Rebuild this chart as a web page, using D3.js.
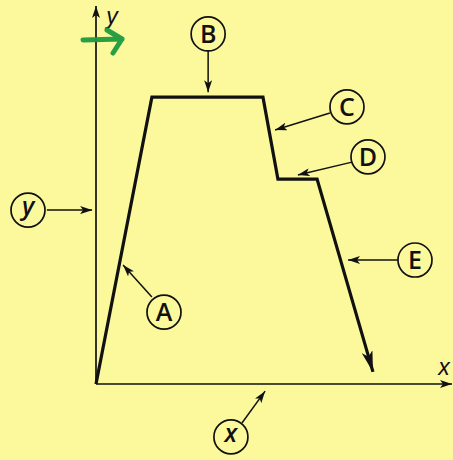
<!DOCTYPE html>
<html>
<head>
<meta charset="utf-8">
<script src="https://cdn.jsdelivr.net/npm/d3@7"></script>
<style>
  html, body { margin: 0; padding: 0; background: #fcf89c; }
  svg { display: block; }
</style>
</head>
<body>
<svg id="chart" width="453" height="460"></svg>
<script>
// ---- data (abstract units, 0..100 on each axis) ----
const pathX = [0, 15.7, 46.9, 51.1, 62.1, 77.8];
const pathY = [0, 75.9, 75.9, 54.2, 54.2, 3.2];

const labelNames  = ["y", "A", "B", "C", "D", "E", "x"];
const labelItalic = [true, false, false, false, false, false, true];
const labelCX     = [-19.1, 19.1, 31.5, 70.5, 76.4, 89.6, 37.9];
const labelCY     = [46.0, 19.0, 92.6, 73.3, 60.1, 32.8, -14.0];
const arrowFromX  = [-13.8, 15.7, 31.5, 65.7, 71.9, 84.8, 41.0];
const arrowFromY  = [46.0, 23.0, 88.1, 71.7, 58.7, 32.8, -10.3];
const arrowToX    = [-1.1, 7.6, 31.5, 50.3, 56.7, 70.8, 47.5];
const arrowToY    = [46.0, 31.5, 77.2, 67.2, 55.3, 32.8, -1.9];

const axisNames = ["x", "y"];

// ---- scales ----
const svg = d3.select("#chart");
const x = d3.scaleLinear().domain([0, 100]).range([96, 452]);
const y = d3.scaleLinear().domain([0, 100]).range([384, 6]);

// ---- markers ----
const defs = svg.append("defs");
function marker(id, w, h) {
  defs.append("marker")
    .attr("id", id)
    .attr("viewBox", `0 0 ${w} ${h}`)
    .attr("refX", w).attr("refY", h / 2)
    .attr("markerUnits", "userSpaceOnUse")
    .attr("markerWidth", w).attr("markerHeight", h)
    .attr("orient", "auto")
    .append("path")
    .attr("d", `M0,0 L${w},${h/2} L0,${h} L${w*0.25},${h/2} Z`)
    .attr("fill", "#111");
}
marker("axisHead", 12, 8);
marker("smallHead", 12, 8);
marker("bigHead", 21, 11);

// ---- axes ----
const [xmin, xmax] = x.range();
svg.append("line")
  .attr("x1", x(0)).attr("y1", y(0))
  .attr("x2", xmax).attr("y2", y(0))
  .attr("stroke", "#111").attr("stroke-width", 1.7)
  .attr("marker-end", "url(#axisHead)");
svg.append("line")
  .attr("x1", x(0)).attr("y1", y(0))
  .attr("x2", x(0)).attr("y2", y.range()[1])
  .attr("stroke", "#111").attr("stroke-width", 1.7)
  .attr("marker-end", "url(#axisHead)");

// axis labels
svg.append("text")
  .attr("x", xmax - 8).attr("y", y(0) - 9)
  .attr("text-anchor", "middle")
  .attr("font-family", "Liberation Sans, Arial, sans-serif")
  .attr("font-style", "italic").attr("font-size", 23)
  .attr("fill", "#111")
  .text(axisNames[0]);
svg.append("text")
  .attr("x", x(0) + 16).attr("y", y.range()[1] + 18)
  .attr("text-anchor", "middle")
  .attr("font-family", "Liberation Sans, Arial, sans-serif")
  .attr("font-style", "italic").attr("font-size", 23)
  .attr("fill", "#111")
  .text(axisNames[1]);

// ---- green hand-drawn arrow ----
svg.append("path")
  .attr("d", "M83,40 L122,39 M107,30 L122,39 L113,53")
  .attr("fill", "none")
  .attr("stroke", "#1e9a3e")
  .attr("stroke-width", 5)
  .attr("stroke-linecap", "round")
  .attr("stroke-linejoin", "round")
  .attr("opacity", 0.95);

// ---- main polyline ----
const pts = pathX.map((d, i) => [d, pathY[i]]);
svg.append("path")
  .datum(pts)
  .attr("d", d3.line().x(d => x(d[0])).y(d => y(d[1])))
  .attr("fill", "none")
  .attr("stroke", "#111")
  .attr("stroke-width", 3.2)
  .attr("stroke-linejoin", "miter")
  .attr("marker-end", "url(#bigHead)");

// ---- circled labels ----
const labels = labelNames.map((n, i) => ({
  n, it: labelItalic[i],
  cx: labelCX[i], cy: labelCY[i],
  fx: arrowFromX[i], fy: arrowFromY[i],
  tx: arrowToX[i], ty: arrowToY[i]
}));

const g = svg.append("g");
g.selectAll("line.ptr").data(labels).join("line")
  .attr("class", "ptr")
  .attr("x1", d => x(d.fx)).attr("y1", d => y(d.fy))
  .attr("x2", d => x(d.tx)).attr("y2", d => y(d.ty))
  .attr("stroke", "#111").attr("stroke-width", 1.5)
  .attr("marker-end", "url(#smallHead)");

g.selectAll("circle.lbl").data(labels).join("circle")
  .attr("class", "lbl")
  .attr("cx", d => x(d.cx)).attr("cy", d => y(d.cy))
  .attr("r", 17)
  .attr("fill", "#fcf89c")
  .attr("stroke", "#111").attr("stroke-width", 1.7);

g.selectAll("text.lbl").data(labels).join("text")
  .attr("class", "lbl")
  .attr("x", d => x(d.cx)).attr("y", d => y(d.cy) + (d.it ? 5 : 9))
  .attr("text-anchor", "middle")
  .attr("font-family", "Open Sans, Liberation Sans, sans-serif")
  .attr("font-style", d => d.it ? "italic" : "normal")
  .attr("font-weight", 600)
  .attr("font-size", 25)
  .attr("fill", "#111")
  .text(d => d.n);
</script>
</body>
</html>
